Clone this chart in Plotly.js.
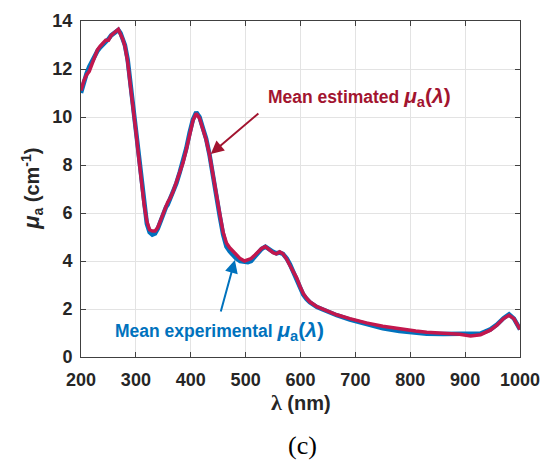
<!DOCTYPE html>
<html>
<head>
<meta charset="utf-8">
<script src="https://cdn.plot.ly/plotly-3.0.1.min.js"></script>
<style>html,body{margin:0;padding:0;background:#fff;}#chart{width:545px;height:462px;}</style>
</head>
<body>
<div id="chart"></div>
<script>
const wavelength = [200,205,210,215,220,225,230,235,240,245,250,255,260,265,268,272,276,280,285,290,295,300,305,310,315,320,325,330,335,340,345,350,355,358,362,368,374,380,386,392,398,404,410,416,422,428,434,440,447,453,459,465,471,477,483,490,498,504,510,517,523,529,536,541,545,550,556,562,568,575,581,587,593,599,605,611,617,630,648,666,690,720,750,780,810,830,860,890,910,928,946,958,970,980,989,1000];
const muEstimated = [11.1,11.5,11.75,11.9,12.2,12.5,12.8,12.95,13.1,13.2,13.2,13.4,13.5,13.62,13.65,13.45,13.25,12.95,12.3,11.3,10.45,9.4,8.35,7.3,6.35,5.65,5.3,5.25,5.25,5.4,5.7,6.05,6.35,6.45,6.6,6.9,7.3,7.7,8.1,8.65,9.3,9.85,10.15,9.95,9.5,9.05,8.45,7.6,6.65,5.95,5.2,4.75,4.55,4.4,4.25,4.1,4.0,4.07,4.1,4.25,4.39,4.52,4.6,4.5,4.42,4.35,4.3,4.38,4.3,4.07,3.8,3.55,3.3,2.95,2.65,2.45,2.3,2.1,1.92,1.76,1.6,1.42,1.28,1.17,1.08,1.03,1.0,0.95,0.88,0.93,1.12,1.33,1.6,1.74,1.6,1.15];
const muExperimental = [11.0,11.45,11.8,12.1,12.35,12.55,12.75,12.9,13.0,13.1,13.25,13.4,13.5,13.6,13.63,13.5,13.3,13.0,12.4,11.4,10.5,9.45,8.4,7.35,6.3,5.55,5.2,5.1,5.15,5.35,5.65,6.0,6.25,6.35,6.55,6.85,7.25,7.7,8.15,8.7,9.35,9.9,10.2,10.0,9.55,9.1,8.45,7.55,6.55,5.85,5.1,4.6,4.4,4.25,4.1,4.0,3.95,3.95,4.0,4.2,4.35,4.5,4.6,4.5,4.45,4.38,4.32,4.35,4.3,4.1,3.85,3.55,3.25,2.9,2.6,2.42,2.28,2.08,1.9,1.74,1.56,1.36,1.2,1.08,1.0,0.97,0.96,0.95,0.95,0.98,1.15,1.35,1.62,1.78,1.6,1.15];
const xTicks = [200,300,400,500,600,700,800,900,1000];
const yTicks = [0,2,4,6,8,10,12,14];

const blue = '#0072BD';
const red = '#C2174D';
const darkRed = '#A2142F';
const axisColor = '#404040';
const sans = 'Liberation Sans, Arial, sans-serif';
const tickFont = {family: sans, size: 18, color: '#262626', weight: 'bold'};
const muLabel = '<span style="font-size:21px"><i>μ</i><sub>a</sub>(<i>λ</i>)</span>';

const traces = [
  {x: wavelength, y: muExperimental, mode: 'lines', line: {color: blue, width: 4.5}, hoverinfo: 'skip'},
  {x: wavelength, y: muEstimated, mode: 'lines', line: {color: red, width: 3.5}, hoverinfo: 'skip'}
];

const axisCommon = {
  showline: true, mirror: 'ticks', linecolor: axisColor, linewidth: 1,
  ticks: 'inside', ticklen: 5, tickcolor: axisColor, tickwidth: 1,
  showgrid: true, gridcolor: '#e3e3e3', gridwidth: 1,
  zeroline: false, tickfont: tickFont, fixedrange: true
};

const layout = {
  width: 545, height: 462,
  margin: {l: 81, r: 25, t: 21, b: 105},
  paper_bgcolor: '#fff', plot_bgcolor: '#fff',
  showlegend: false,
  xaxis: Object.assign({}, axisCommon, {range: [200, 1000], tickvals: xTicks, ticktext: xTicks.map(String), ticklabelstandoff: 6}),
  yaxis: Object.assign({}, axisCommon, {range: [0, 14], tickvals: yTicks, ticktext: yTicks.map(String), ticklabelstandoff: 4}),
  annotations: [
    {xref: 'paper', yref: 'paper', x: 0.5, y: -0.134, xanchor: 'center', yanchor: 'middle', showarrow: false,
     text: '<b><span style="font-family:Liberation Serif,Times New Roman,serif;font-size:22px">λ</span> (nm)</b>',
     font: {family: sans, size: 20, color: '#262626'}},
    {xref: 'paper', yref: 'paper', x: -0.112, y: 0.5, xanchor: 'center', yanchor: 'middle', showarrow: false, textangle: -90,
     text: '<b><span style="font-size:22px"><i>μ</i></span><sub>a</sub> (cm<sup>-1</sup>)</b>',
     font: {family: sans, size: 20, color: '#262626'}},
    {xref: 'paper', yref: 'paper', x: 0.505, y: -0.262, xanchor: 'center', yanchor: 'middle', showarrow: false,
     text: '(c)', font: {family: 'Liberation Serif, Times New Roman, serif', size: 26, color: '#000'}},
    {xref: 'x', yref: 'y', x: 538, y: 10.85, xanchor: 'left', yanchor: 'middle', showarrow: false,
     text: '<b>Mean estimated ' + muLabel + '</b>',
     font: {family: sans, size: 17.5, color: darkRed}},
    {xref: 'x', yref: 'y', x: 436.5, y: 8.46, ax: 526, ay: 10.2, axref: 'x', ayref: 'y', text: '',
     showarrow: true, arrowhead: 2, arrowsize: 1.3, arrowwidth: 2, arrowcolor: darkRed, standoff: 0},
    {xref: 'x', yref: 'y', x: 258, y: 1.1, xanchor: 'left', yanchor: 'middle', showarrow: false,
     text: '<b>Mean experimental ' + muLabel + '</b>',
     font: {family: sans, size: 17.5, color: blue}},
    {xref: 'x', yref: 'y', x: 480.4, y: 4.04, ax: 454, ay: 1.83, axref: 'x', ayref: 'y', text: '',
     showarrow: true, arrowhead: 2, arrowsize: 1.3, arrowwidth: 2, arrowcolor: blue, standoff: 0}
  ]
};

Plotly.newPlot('chart', traces, layout, {staticPlot: true, displayModeBar: false});
</script>
</body>
</html>
